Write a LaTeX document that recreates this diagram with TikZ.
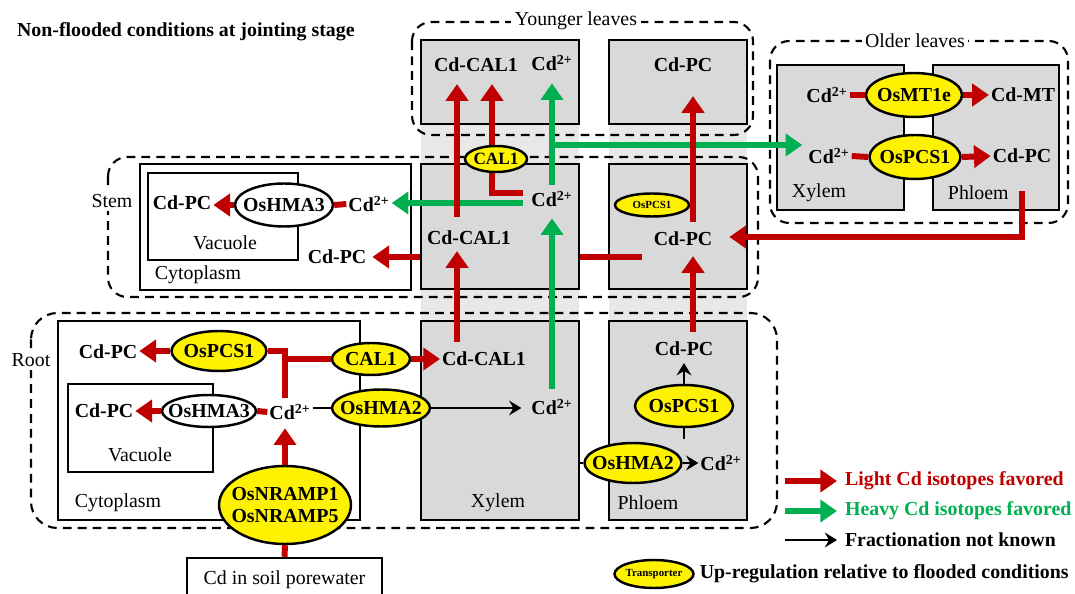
\documentclass[tikz,border=0pt]{standalone}
\usepackage{fontspec}
\setmainfont{Liberation Serif}
\usetikzlibrary{shapes.geometric, arrows.meta, positioning, calc}
\definecolor{cdred}{HTML}{C00000}
\definecolor{cdgreen}{HTML}{00B050}
\definecolor{boxgray}{HTML}{D9D9D9}
\definecolor{bandgray}{HTML}{E8E8E8}
\newcommand{\nowidth}[1]{\makebox[0pt]{#1}}
\tikzstyle{organ} = [draw=black, line width=1.2pt, dash pattern=on 5pt off 3.5pt, rounded corners=11pt]
\tikzstyle{organname} = [fill=white, inner sep=2pt]
\tikzstyle{tissue} = [rectangle, draw=black, line width=1.4pt, fill=boxgray, inner sep=0pt]
\tikzstyle{cell} = [rectangle, draw=black, line width=1.4pt, inner sep=0pt]
\tikzstyle{cd} = [font=\bfseries, inner sep=1pt]
\tikzstyle{trans} = [ellipse, draw=black, line width=1.4pt, fill=yellow, inner sep=0pt, font=\bfseries]
\tikzstyle{vac} = [trans, fill=white]
\tikzstyle{light} = [draw=cdred, line width=3.4pt, -{Triangle[width=12.5pt,length=9.5pt]}]
\tikzstyle{lightline} = [draw=cdred, line width=3.4pt]
\tikzstyle{heavy} = [draw=cdgreen, line width=3.4pt, -{Triangle[width=12.5pt,length=9.5pt]}]
\tikzstyle{unknown} = [draw=black, line width=1.4pt, -{Stealth[length=7pt,width=8.5pt,inset=2.5pt]}]
\tikzstyle{unknownline} = [draw=black, line width=1.4pt]

\begin{document}
\fontsize{11.3}{13}\selectfont
\begin{tikzpicture}[x=0.02cm, y=-0.02cm]
        \useasboundingbox (0,0) rectangle (1075,594);

        % Vascular columns (background)
        \fill[bandgray] (421,40) rectangle (579,520);
        \fill[bandgray] (609,40) rectangle (747,520);

        % Tissues
        \node (boxYX) [tissue, minimum width=3.16cm, minimum height=1.68cm] at (500,82) {};
        \node (boxYP) [tissue, minimum width=2.76cm, minimum height=1.68cm] at (678,82) {};
        \node (boxSX) [tissue, minimum width=3.16cm, minimum height=2.5cm] at (500,226.5) {};
        \node (boxSP) [tissue, minimum width=2.76cm, minimum height=2.5cm] at (678,226.5) {};
        \node (boxRX) [tissue, minimum width=3.16cm, minimum height=3.98cm] at (500,420.5) {};
        \node (boxRP) [tissue, minimum width=2.76cm, minimum height=3.98cm] at (678,420.5) {};
        \node (boxOX) [tissue, minimum width=2.54cm, minimum height=2.9cm] at (840.5,137.5) {};
        \node (boxOP) [tissue, minimum width=2.52cm, minimum height=2.9cm] at (996,137.5) {};

        % Organs
        \draw[organ] (412,22) rectangle (753,135);
        \draw[organ] (770,41) rectangle (1068,223);
        \draw[organ] (108,157) rectangle (758,297);
        \draw[organ, rounded corners=15pt] (31,313) rectangle (777,528);

        % Cells
        \node (cytS) [cell, minimum width=5.42cm, minimum height=2.52cm] at (275.5,227) {};
        \node (vacuoleS) [cell, minimum width=3cm, minimum height=1.74cm] at (223,216.5) {};
        \node (cytR) [cell, minimum width=6.04cm, minimum height=3.98cm] at (209,420.5) {};
        \node (vacuoleR) [cell, minimum width=2.9cm, minimum height=1.76cm] at (140.5,428) {};
        \node (soil) [cell, minimum width=3.9cm, minimum height=0.88cm] at (284.5,580) {Cd in soil porewater};

        % Title
        \node (title) [cd, anchor=west] at (15,32) {Non-flooded conditions at jointing stage};

        % Younger leaves
        \node (cdcal1Y) [cd] at (476,65) {Cd-CAL1};
        \node (cd2Y) [cd] at (552,63) {Cd\textsuperscript{2+}};
        \node (cdpcY) [cd] at (683,65) {Cd-PC};

        % Stem
        \node (cdpcSV) [cd] at (182,203) {Cd-PC};
        \node (lblVacS) at (225,243) {Vacuole};
        \node (lblCytS) [anchor=west] at (148,275) {Cytoplasm};
        \node (cd2Sc) [cd] at (369,204) {Cd\textsuperscript{2+}};
        \node (cdpcS) [cd] at (337,257) {Cd-PC};
        \node (cdcal1S) [cd] at (469,238) {Cd-CAL1};
        \node (cd2S) [cd] at (552,199) {Cd\textsuperscript{2+}};
        \node (cdpcSP) [cd] at (683,239) {Cd-PC};
        \coordinate (pcfork) at (642,257);

        % Older leaves
        \node (cd2Oa) [cd] at (827,95) {Cd\textsuperscript{2+}};
        \node (cdmt) [cd] at (1023,95) {Cd-MT};
        \node (cd2Ob) [cd] at (829,156) {Cd\textsuperscript{2+}};
        \node (cdpcO) [cd] at (1022,156) {Cd-PC};
        \node (lblXylO) [anchor=west] at (785,193) {Xylem};
        \node (lblPhlO) [anchor=west] at (941,193) {Phloem};

        % Root
        \node (cdpcR1) [cd] at (108,352) {Cd-PC};
        \node (cdpcR2) [cd] at (104,411) {Cd-PC};
        \node (lblVacR) at (140,455) {Vacuole};
        \node (lblCytR) [anchor=west] at (68,503) {Cytoplasm};
        \node (cd2R) [cd] at (290,412) {Cd\textsuperscript{2+}};
        \node (cdcal1R) [cd] at (484,359) {Cd-CAL1};
        \node (cd2RX) [cd] at (552,407) {Cd\textsuperscript{2+}};
        \node (lblXylR) at (498,503) {Xylem};
        \node (cdpcRP) [cd] at (684,349) {Cd-PC};
        \node (cd2RP) [cd] at (721,463) {Cd\textsuperscript{2+}};
        \node (lblPhlR) at (648,503) {Phloem};

        % Red path behind CAL1 (stem)
        \draw[light] ($(cd2S.west)+(-6,-6)$) -| ($(cdcal1Y.south)+(16,10)$);

        % Transporters
        \node (cal1S) [trans, font=\bfseries\fontsize{9.8}{10}\selectfont, minimum width=1.24cm, minimum height=0.52cm] at (496,159) {\nowidth{CAL1}};
        \node (pcs1S) [trans, font=\bfseries\fontsize{6.2}{7}\selectfont, minimum width=1.48cm, minimum height=0.46cm] at (652,205) {\nowidth{OsPCS1}};
        \node (mt1e) [trans, minimum width=1.92cm, minimum height=0.88cm] at (914,95) {\nowidth{OsMT1e}};
        \node (pcs1O) [trans, minimum width=1.82cm, minimum height=0.88cm] at (915,157) {\nowidth{OsPCS1}};
        \node (hma3S) [vac, minimum width=1.96cm, minimum height=0.86cm] at (284,205) {\nowidth{OsHMA3}};
        \node (pcs1R) [trans, minimum width=1.9cm, minimum height=0.8cm] at (219,351) {\nowidth{OsPCS1}};
        \node (hma3R) [vac, minimum width=1.88cm, minimum height=0.64cm] at (209,411) {\nowidth{OsHMA3}};
        \node (cal1R) [trans, minimum width=1.56cm, minimum height=0.64cm] at (371,359) {\nowidth{CAL1}};
        \node (hma2R) [trans, minimum width=1.96cm, minimum height=0.74cm] at (381,408) {\nowidth{OsHMA2}};
        \node (nramp) [trans, align=center, minimum width=2.64cm, minimum height=1.56cm] at (285,505) {\nowidth{OsNRAMP1}\\\nowidth{OsNRAMP5}};
        \node (pcs1P) [trans, minimum width=1.96cm, minimum height=0.84cm] at (684,406) {\nowidth{OsPCS1}};
        \node (hma2P) [trans, minimum width=1.94cm, minimum height=0.8cm] at (633,463) {\nowidth{OsHMA2}};
        \coordinate (pcs1tail) at ($(pcs1P.south)+(0,11)$);

        % Arrows: stem
        \draw[light] (hma3S.west) -- (hma3S.west -| cdpcSV.east);
        \draw[lightline] (cd2Sc.west) -- (hma3S.east);
        \draw[heavy] ($(cd2S.west)+(-6,4)$) -- ($(cd2S.west -| cd2Sc.east)+(0,4)$);
        \draw[lightline] (pcfork) -- (pcfork -| boxSX.east);
        \draw[light] (pcfork -| boxSX.west) -- ($(pcfork -| cdpcS.east)+(4,0)$);
        \draw[light] ($(cdcal1S.north)+(-12,-12)$) -- ($(cdcal1Y.south)+(-19,10)$);
        \draw[heavy] ($(cd2S.north)+(0,-4)$) -- ($(cd2Y.south)+(0,10)$);
        \draw[heavy] ($(cd2S.north |- cd2Ob.west)+(0,-11)$) -- ($(cd2Ob.west)+(-4,-11)$);
        \draw[light] ($(cdpcSP.north)+(10,-8)$) -- ($(cdpcY.south)+(10,22)$);
        \draw[light] ($(cdpcO.south)+(0,26)$) |- ($(cdpcSP.east)+(15,-2)$);

        % Arrows: older leaves
        \draw[lightline] (cd2Oa.east) -- (mt1e.west);
        \draw[light] (mt1e.east) -- (cdmt.west);
        \draw[lightline] (cd2Ob.east) -- (pcs1O.west);
        \draw[light] (pcs1O.east) -- (cdpcO.west);

        % Arrows: root
        \draw[lightline] (soil.north) -- (nramp.south);
        \draw[light] (nramp.north) -- ($(nramp.north |- cd2R.south)+(0,6)$);
        \draw[lightline] ($(nramp.north |- cd2R.north)+(0,-4)$) |- (pcs1R.east);
        \draw[lightline] (nramp.north |- cal1R.west) -- (cal1R.west);
        \draw[light] (pcs1R.west) -- (pcs1R.west -| cdpcR1.east);
        \draw[light] (cal1R.east) -- (cal1R.east -| cdcal1R.west);
        \draw[lightline] (cd2R.west) -- (hma3R.east);
        \draw[light] (hma3R.west) -- (hma3R.west -| cdpcR2.east);
        \draw[unknownline] (cd2R.east |- hma2R.west) -- (hma2R.west);
        \draw[unknown] (hma2R.east) -- ($(hma2R.east -| cd2RX.west)+(-8,0)$);
        \draw[light] ($(cdcal1R.north)+(-27,-8)$) -- ($(cdcal1S.south)+(-12,4)$);
        \draw[heavy] ($(cd2RX.north)+(0,-8)$) -- ($(cd2S.south)+(0,9)$);
        \draw[light] ($(cdpcRP.north)+(9,-8)$) -- ($(cdpcSP.south)+(10,8)$);
        \draw[unknown] (pcs1P.north) -- ($(pcs1P.north |- cdpcRP.south)+(0,5)$);
        \draw[unknownline] (pcs1P.south) -- (pcs1tail);
        \draw[unknownline] (boxRX.east |- hma2P.west) -- (hma2P.west);
        \draw[unknown] (hma2P.east) -- (hma2P.east -| cd2RP.west);

        % Organ names
        \node (nYoung) [organname] at (576,21) {Younger leaves};
        \node (nOld) [organname] at (915,41) {Older leaves};
        \node (nStem) [organname] at (112,201) {Stem};
        \node (nRoot) [organname] at (31,360) {Root};

        % Legend
        \node (lgLight) [cd, anchor=west, text=cdred] at (843,481) {Light Cd isotopes favored};
        \node (lgHeavy) [cd, anchor=west, text=cdgreen] at (843,511) {Heavy Cd isotopes favored};
        \node (lgUnknown) [cd, anchor=west] at (843,540) {Fractionation not known};
        \draw[light] ($(lgLight.west)+(-58,0)$) -- ($(lgLight.west)+(-6,0)$);
        \draw[heavy] ($(lgHeavy.west)+(-58,0)$) -- ($(lgHeavy.west)+(-6,0)$);
        \draw[unknown] ($(lgUnknown.west)+(-58,0)$) -- ($(lgUnknown.west)+(-6,0)$);
        \node (lgTrans) [trans, font=\bfseries\fontsize{6.2}{7}\selectfont, minimum width=1.58cm, minimum height=0.56cm] at (654,574) {\nowidth{Transporter}};
        \node (lgUp) [cd, right=0.06cm of lgTrans] {Up-regulation relative to flooded conditions};

\end{tikzpicture}
\end{document}
